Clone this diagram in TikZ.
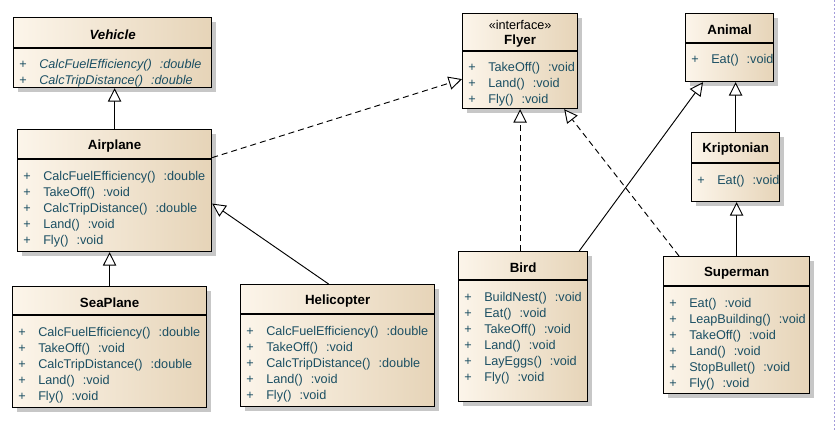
\documentclass[tikz,border=0pt]{standalone}
\usepackage{fontspec}
\setmainfont{Liberation Sans}
\usetikzlibrary{arrows.meta,calc,shadows}

\definecolor{creme}{HTML}{FCF5EA}
\definecolor{sand}{HTML}{E6D4B8}
\definecolor{petrol}{HTML}{1B4F63}
\definecolor{lila}{HTML}{A39CDA}

\begin{document}
\begin{tikzpicture}[x=0.75pt,y=-0.75pt,
  rand/.style={line width=0.9pt},
  box/.style={rand,draw,anchor=north west,left color=creme,right color=sand,
    drop shadow={opacity=1,fill=black!22,shadow xshift=3pt,shadow yshift=-3pt}},
  titel/.style={inner sep=0pt,align=center,font=\fontsize{10}{12}\selectfont\bfseries},
  methoden/.style={inner sep=0pt,anchor=base west,text=petrol,font=\fontsize{9.5}{12}\selectfont},
  erbt/.style={line width=0.7pt,-{Triangle[open,fill=white,length=10pt,width=10pt]}},
  impl/.style={erbt,dash pattern=on 4.5pt off 3pt}]

\useasboundingbox (0,0) rectangle (837,431);
\def\px{0.75pt}
\def\abst{\hspace{6pt}}

% Klasse: Name, x, y, Breite, Hoehe, Kopfhoehe, Titel, Methoden
\def\klasse#1#2#3#4#5#6#7#8{%
  \node[box,minimum width=#4*\px,minimum height=#5*\px] (#1) at (#2,#3) {};
  \coordinate (#1-d) at ($(#1.north west)+(0,#6)$);
  \draw[rand] (#1-d) -- (#1-d -| #1.east);
  \node[titel] (#1-t) at ($(#1.north)!0.5!(#1-d -| #1.north)+(0,2)$) {#7};
  \node[methoden] (#1-m) at ($(#1-d)+(6,21)$)
    {\begin{tabular}[t]{@{}p{15pt}@{}l@{}}#8\end{tabular}};}

% Fahrzeuge
\klasse{vehicle}{13}{17}{198}{70}{31}{\itshape Vehicle}
  {+ & \itshape CalcFuelEfficiency()\abst:double\\
   + & \itshape CalcTripDistance()\abst:double}
\klasse{airplane}{17}{129}{194}{122}{30}{Airplane}
  {+ & CalcFuelEfficiency()\abst:double\\
   + & TakeOff()\abst:void\\
   + & CalcTripDistance()\abst:double\\
   + & Land()\abst:void\\
   + & Fly()\abst:void}
\klasse{seaplane}{12}{286}{194}{121}{29}{SeaPlane}
  {+ & CalcFuelEfficiency()\abst:double\\
   + & TakeOff()\abst:void\\
   + & CalcTripDistance()\abst:double\\
   + & Land()\abst:void\\
   + & Fly()\abst:void}
\klasse{helicopter}{240}{284}{194}{122}{30}{Helicopter}
  {+ & CalcFuelEfficiency()\abst:double\\
   + & TakeOff()\abst:void\\
   + & CalcTripDistance()\abst:double\\
   + & Land()\abst:void\\
   + & Fly()\abst:void}

% Interface
\klasse{flyer}{462}{13}{115}{95}{38}{{\mdseries\fontsize{9.5}{11}\selectfont «interface»}\\[-1pt]Flyer}
  {+ & TakeOff()\abst:void\\
   + & Land()\abst:void\\
   + & Fly()\abst:void}

% Tiere
\klasse{animal}{685}{13}{88}{68}{30}{Animal}
  {+ & Eat()\abst:void}
\klasse{kriptonian}{691}{132}{88}{69}{31}{Kriptonian}
  {+ & Eat()\abst:void}
\klasse{bird}{458}{251}{129}{150}{29}{Bird}
  {+ & BuildNest()\abst:void\\
   + & Eat()\abst:void\\
   + & TakeOff()\abst:void\\
   + & Land()\abst:void\\
   + & LayEggs()\abst:void\\
   + & Fly()\abst:void}
\klasse{superman}{663}{256}{146}{137}{30}{Superman}
  {+ & Eat()\abst:void\\
   + & LeapBuilding()\abst:void\\
   + & TakeOff()\abst:void\\
   + & Land()\abst:void\\
   + & StopBullet()\abst:void\\
   + & Fly()\abst:void}

% Vererbung
\draw[erbt] (airplane.north) -- (airplane.north |- vehicle.south);
\draw[erbt] (seaplane.north) -- (seaplane.north |- airplane.south);
\draw[erbt] ([xshift=-9*\px]helicopter.north) -- ([yshift=-13*\px]airplane.east);
\draw[erbt] ([xshift=-9*\px]bird.north east) -- ([xshift=18*\px]animal.south west);
\draw[erbt] (kriptonian.north) -- (kriptonian.north |- animal.south);
\draw[erbt] (superman.north) -- (superman.north |- kriptonian.south);

% Realisierung
\draw[impl] ([yshift=33*\px]airplane.east) -- ([yshift=-18*\px]flyer.west);
\draw[impl] (flyer.south |- bird.north) -- (flyer.south);
\draw[impl] ([xshift=16*\px]superman.north west) -- ([xshift=-14*\px]flyer.south east);

% Seitenrand
\draw[lila,line width=0.6pt,dash pattern=on 1.5pt off 1.5pt] (834,0) -- (834,431);

\end{tikzpicture}
\end{document}
